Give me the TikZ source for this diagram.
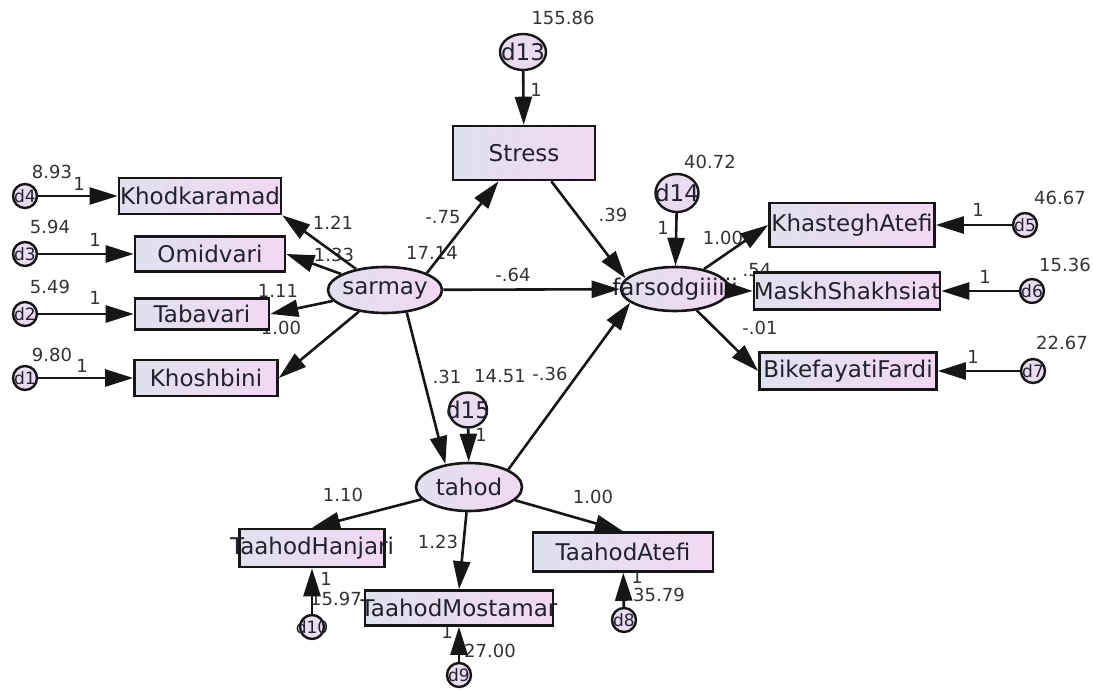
\documentclass[tikz,border=0pt]{standalone}
\usepackage{fontspec}
\setmainfont{DejaVu Sans}
\usepackage{tikz}
\usetikzlibrary{positioning, shapes.geometric, arrows.meta, calc}

\definecolor{boxleft}{HTML}{E0E1EE}
\definecolor{boxright}{HTML}{F2D8F3}
\definecolor{errfill}{HTML}{EADCF0}
\definecolor{inkline}{HTML}{161616}
\definecolor{inktext}{HTML}{22222E}
\definecolor{numgrey}{HTML}{333333}

\newcommand{\nw}[1]{\makebox[0pt]{#1}}

\tikzset{
  obsvar/.style={rectangle, draw=inkline, line width=2.6pt, left color=boxleft, right color=boxright,
    inner sep=0pt, font=\fontsize{23}{25}\selectfont, text=inktext},
  latvar/.style={ellipse, draw=inkline, line width=2.6pt, left color=boxleft!80!errfill, right color=boxright,
    inner sep=0pt, font=\fontsize{23}{25}\selectfont, text=inktext},
  errsm/.style={circle, draw=inkline, line width=2.4pt, fill=errfill, inner sep=0pt,
    minimum size=24, font=\fontsize{17}{18}\selectfont, text=inktext},
  errbig/.style={ellipse, draw=inkline, line width=2.4pt, fill=errfill, inner sep=0pt,
    minimum width=44, minimum height=38, font=\fontsize{23}{25}\selectfont, text=inktext},
  est/.style={font=\fontsize{18}{19}\selectfont, text=numgrey, inner sep=0pt},
  reg/.style={-{Triangle[length=28pt,width=17pt]}, line width=2.6pt, draw=inkline},
}

\begin{document}
\begin{tikzpicture}[x=1pt,y=-1pt]
  \useasboundingbox (0,0) rectangle (1093,690);
  \fill[white] (0,0) rectangle (1093,690);

  % estimates
  \node[est] (v13) at (563,18) {155.86};
  \node[est] (o13) at (536,90) {1};
  \node[est] (v4) at (52,172) {8.93};
  \node[est] (o4) at (79,184) {1};
  \node[est] (v3) at (50,227) {5.94};
  \node[est] (o3) at (95,240) {1};
  \node[est] (v2) at (50,287) {5.49};
  \node[est] (o2) at (95,298) {1};
  \node[est] (v1) at (52,355) {9.80};
  \node[est] (o1) at (82,366) {1};
  \node[est] (wkhod) at (333,223) {1.21};
  \node[est] (womid) at (334,255) {1.33};
  \node[est] (wtab) at (278,291) {1.11};
  \node[est] (wkhosh) at (281,328) {1.00};
  \node[est] (wstress) at (443,217) {-.75};
  \node[est] (vstress) at (432,253) {17.14};
  \node[est] (wdirect) at (513,275) {-.64};
  \node[est] (wsf) at (613,215) {.39};
  \node[est] (v14) at (710,162) {40.72};
  \node[est] (o14) at (663,228) {1};
  \node[est] (wkhas) at (723,238) {1.00};
  \node[est] (wmaskh) at (757,270) {.54};
  \node[est] (wbike) at (760,328) {-.01};
  \node[est] (v5) at (1060,198) {46.67};
  \node[est] (o5) at (978,210) {1};
  \node[est] (v6) at (1065,265) {15.36};
  \node[est] (o6) at (985,277) {1};
  \node[est] (v7) at (1062,343) {22.67};
  \node[est] (o7) at (973,357) {1};
  \node[est] (wtahod) at (447,377) {.31};
  \node[est] (vtahod) at (500,376) {14.51};
  \node[est] (wtf) at (550,374) {-.36};
  \node[est] (o15) at (481,435) {1};
  \node[est] (whanj) at (343,495) {1.10};
  \node[est] (wmost) at (438,542) {1.23};
  \node[est] (watefi) at (593,497) {1.00};
  \node[est] (o10) at (326,579) {1};
  \node[est] (v10) at (336,599) {15.97};
  \node[est] (o9) at (447,632) {1};
  \node[est] (v9) at (490,651) {27.00};
  \node[est] (o8) at (637,577) {1};
  \node[est] (v8) at (659,595) {35.79};

  % latent variables
  \node[latvar, minimum width=114, minimum height=46] (sarmay) at (385,290) {\nw{sarmay}};
  \node[latvar, minimum width=108, minimum height=44] (farsod) at (675,289) {\nw{farsodgiiiiii}};
  \node[latvar, minimum width=106, minimum height=48] (tahod) at (469,487) {\nw{tahod}};

  % observed variables
  \node[obsvar, minimum width=142, minimum height=54] (stress) at (524,153) {\nw{Stress}};
  \node[obsvar, minimum width=162, minimum height=36] (khod) at (200,196) {\nw{Khodkaramad}};
  \node[obsvar, minimum width=150, minimum height=35] (omid) at (210,254) {\nw{Omidvari}};
  \node[obsvar, minimum width=134, minimum height=31] (tab) at (202,314) {\nw{Tabavari}};
  \node[obsvar, minimum width=143, minimum height=36] (khosh) at (206,378) {\nw{Khoshbini}};
  \node[obsvar, minimum width=165, minimum height=44] (khas) at (852,225) {\nw{KhasteghAtefi}};
  \node[obsvar, minimum width=186, minimum height=37] (maskh) at (847,291) {\nw{MaskhShakhsiat}};
  \node[obsvar, minimum width=177, minimum height=37] (bike) at (848,371) {\nw{BikefayatiFardi}};
  \node[obsvar, minimum width=145, minimum height=38] (hanj) at (312,548) {\nw{TaahodHanjari}};
  \node[obsvar, minimum width=188, minimum height=35] (most) at (459,608) {\nw{TaahodMostamar}};
  \node[obsvar, minimum width=180, minimum height=39] (tatefi) at (623,552) {\nw{TaahodAtefi}};

  % residuals
  \node[errbig, minimum width=46, minimum height=36] (d13) at (523,52) {\nw{d13}};
  \node[errbig, minimum width=43] (d14) at (677,193) {\nw{d14}};
  \node[errbig, minimum width=38, minimum height=35] (d15) at (468,410) {\nw{d15}};
  \node[errsm] (d4) at (25,196) {\nw{d4}};
  \node[errsm] (d3) at (25,254) {\nw{d3}};
  \node[errsm] (d2) at (25,314) {\nw{d2}};
  \node[errsm] (d1) at (25,378) {\nw{d1}};
  \node[errsm] (d5) at (1025,225) {\nw{d5}};
  \node[errsm] (d6) at (1032,291) {\nw{d6}};
  \node[errsm] (d7) at (1033,371) {\nw{d7}};
  \node[errsm] (d10) at (312,627) {\nw{d10}};
  \node[errsm] (d9) at (459,675) {\nw{d9}};
  \node[errsm] (d8) at (624,620) {\nw{d8}};

  % residual paths
  \foreach \e/\v in {d13/stress, d14/farsod, d15/tahod, d4/khod, d3/omid, d2/tab, d1/khosh,
                     d5/khas, d6/maskh, d7/bike, d10/hanj, d9/most, d8/tatefi}
    \draw[reg] (\e) -- (\v);

  % loadings
  \draw[reg] (sarmay) -- (khod.south east);
  \draw[reg] (sarmay) -- (omid.east);
  \draw[reg] (sarmay) -- (tab.east);
  \draw[reg] (sarmay) -- (khosh.east);
  \draw[reg] (farsod) -- (khas.west);
  \draw[reg] (farsod) -- (maskh.west);
  \draw[reg] (farsod) -- (bike.west);
  \draw[reg] (tahod) -- (hanj.north);
  \draw[reg] (tahod) -- (most.north);
  \draw[reg] (tahod) -- (tatefi.north);

  % structural paths
  \draw[reg] (sarmay.22) -- (stress.-132);
  \draw[reg] (stress.-46) -- (farsod.168);
  \draw[reg] (sarmay) -- (farsod);
  \draw[reg] (sarmay.-46) -- (tahod.136);
  \draw[reg] (tahod.24) -- (farsod.-163);
\end{tikzpicture}
\end{document}
